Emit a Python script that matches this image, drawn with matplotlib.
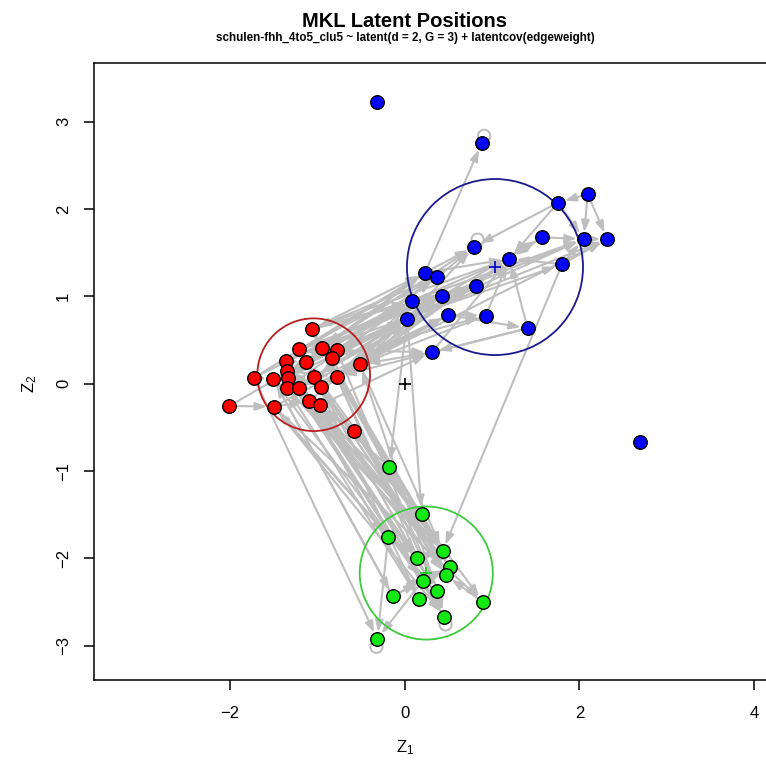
import matplotlib
matplotlib.use("Agg")
import matplotlib.pyplot as plt
from matplotlib.patches import FancyArrowPatch, Circle
import numpy as np

plt.rcParams['font.family'] = ['Liberation Sans', 'DejaVu Sans']

# Latent positions per cluster
red_x = [-1.065, -1.210, -0.950, -0.779, -0.836, -0.512, -1.359, -1.134, -1.351, -1.726, -1.505,
         -1.340, -1.035, -0.779, -1.351, -1.207, -0.962, -2.008, -1.497, -1.092, -0.970, -0.577]
red_y = [0.623, 0.394, 0.412, 0.386, 0.298, 0.222, 0.260, 0.248, 0.145, 0.069, 0.054,
         0.069, 0.080, 0.080, -0.046, -0.046, -0.034, -0.255, -0.263, -0.198, -0.244, -0.538]

blue_x = [1.755, 2.095, 1.576, 2.050, 2.320, 0.794, 1.198, 1.801, 0.232, 0.373, 0.813,
          0.427, 0.080, 0.030, 0.499, 0.928, 1.408, 0.309, -0.317, 0.882, 2.694]
blue_y = [2.073, 2.172, 1.676, 1.657, 1.657, 1.569, 1.431, 1.367, 1.271, 1.218, 1.115,
          1.004, 0.950, 0.744, 0.787, 0.779, 0.634, 0.360, 3.226, 2.753, -0.664]

green_x = [-0.176, 0.195, -0.188, 0.435, 0.137, 0.519, 0.473, 0.206, 0.373, -0.137, 0.164,
           0.900, 0.453, -0.314]
green_y = [-0.957, -1.492, -1.752, -1.916, -1.992, -2.096, -2.194, -2.256, -2.374, -2.431, -2.469,
           -2.503, -2.668, -2.923]

# Cluster means and radii
cluster_x = [-1.042, 1.034, 0.247]
cluster_y = [0.103, 1.336, -2.168]
cluster_r = [0.645, 1.008, 0.762]

# Directed ties (sender, receiver)
edges = [
    # red -> blue
    ("R1", "B13"), ("R1", "B9"), ("R3", "B12"), ("R4", "B14"), ("R4", "B10"), ("R5", "B13"),
    ("R6", "B14"), ("R6", "B15"), ("R6", "B12"), ("R7", "B13"), ("R8", "B9"), ("R9", "B14"),
    ("R13", "B12"), ("R14", "B13"), ("R14", "B15"), ("R17", "B14"), ("R2", "B11"), ("R3", "B6"),
    ("R5", "B16"), ("R6", "B7"), ("R10", "B13"), ("R18", "B13"), ("R12", "B14"), ("R16", "B15"),
    ("R20", "B14"), ("R21", "B18"), ("R4", "B18"), ("R1", "B11"), ("R7", "B12"), ("R2", "B10"),
    ("R10", "B9"), ("R12", "B10"), ("R15", "B13"), ("R16", "B12"), ("R11", "B14"), ("R19", "B15"),
    ("R6", "B5"), ("R4", "B4"), ("R14", "B7"), ("R3", "B8"), ("R1", "B7"), ("R5", "B11"),
    # blue -> red
    ("B13", "R6"), ("B14", "R4"), ("B9", "R3"), ("B12", "R5"), ("B15", "R14"), ("B18", "R6"),
    ("B10", "R1"), ("B13", "R8"), ("B14", "R13"), ("B16", "R6"), ("B17", "R14"), ("B11", "R4"),
    ("B9", "R7"), ("B12", "R2"), ("B13", "R9"), ("B14", "R16"), ("B10", "R12"), ("B15", "R17"),
    ("B11", "R13"),
    # within blue
    ("B1", "B6"), ("B1", "B7"), ("B1", "B4"), ("B2", "B4"), ("B2", "B5"), ("B2", "B1"),
    ("B3", "B4"), ("B3", "B7"), ("B8", "B4"), ("B8", "B5"), ("B8", "B7"), ("B16", "B7"),
    ("B17", "B7"), ("B11", "B7"), ("B9", "B7"), ("B13", "B7"), ("B14", "B5"), ("B12", "B4"),
    ("B15", "B16"), ("B13", "B11"), ("B9", "B20"), ("B4", "B5"), ("B9", "B6"), ("B10", "B6"),
    ("B14", "B6"), ("B12", "B3"), ("B17", "B18"), ("B18", "B7"), ("B15", "B17"), ("B13", "B4"),
    # blue -> green
    ("B8", "G4"), ("B14", "G1"), ("B14", "G2"),
    # red -> green
    ("R15", "G4"), ("R16", "G6"), ("R17", "G7"), ("R19", "G9"), ("R20", "G4"), ("R21", "G6"),
    ("R13", "G5"), ("R22", "G7"), ("R12", "G8"), ("R11", "G10"), ("R9", "G13"), ("R14", "G9"),
    ("R6", "G4"), ("R5", "G7"), ("R3", "G6"), ("R19", "G12"), ("R10", "G14"), ("R19", "G3"),
    ("R8", "G12"), ("R21", "G13"), ("R17", "G4"), ("R16", "G9"), ("R20", "G6"), ("R2", "G5"),
    ("R7", "G11"), ("R1", "G4"), ("R15", "G6"), ("R9", "G7"), ("R7", "G9"), ("R12", "G4"),
    ("R11", "G8"), ("R13", "G11"), ("R14", "G13"), ("R4", "G9"), ("R22", "G4"), ("R20", "G9"),
    ("R19", "G13"),
    # green -> red
    ("G4", "R17"), ("G6", "R14"), ("G2", "R20"), ("G5", "R16"), ("G1", "R21"), ("G3", "R19"),
    ("G7", "R13"), ("G9", "R6"), ("G8", "R21"), ("G11", "R15"), ("G13", "R12"), ("G6", "R9"),
    ("G7", "R3"), ("G10", "R11"),
    # within green
    ("G3", "G14"), ("G8", "G14"), ("G2", "G4"), ("G5", "G4"), ("G10", "G8"), ("G11", "G9"),
    ("G12", "G7"), ("G9", "G13"), ("G8", "G13"), ("G3", "G5"), ("G10", "G6"),
    # within red
    ("R18", "R19"), ("R10", "R11"), ("R1", "R3"), ("R7", "R8"), ("R15", "R16"), ("R19", "R20"),
    ("R11", "R13"), ("R9", "R14"), ("R12", "R17"), ("R2", "R5"), ("R22", "R21"),
]

# Self-ties
loops = ["B20", "B6", "G1", "G13", "G14"]

node_fill = {"R": "#FF0000", "B": "#0000FF", "G": "#12E812"}
circle_col = ["#B81E1E", "#1A1A8C", "#3CCB3C"]
center_col = ["#FF0000", "#0000CC", "#12D012"]

pos = {}
for prefix, xs, ys in (("R", red_x, red_y), ("B", blue_x, blue_y), ("G", green_x, green_y)):
    for i, (x, y) in enumerate(zip(xs, ys)):
        pos[f"{prefix}{i + 1}"] = (x, y)

W, H = 766, 763
fig = plt.figure(figsize=(W / 100, H / 100), dpi=100)
ax_left, ax_right, ax_top, ax_bottom = 94.3, 768.0, 62.7, 680.0
ax = fig.add_axes([ax_left / W, 1 - ax_bottom / H, (ax_right - ax_left) / W, (ax_bottom - ax_top) / H])
ax.set_xlim(-3.554, 4.160)
ax.set_ylim(-3.393, 3.676)

edge_col = "#BEBEBE"
for s, d in edges:
    arr = FancyArrowPatch(pos[s], pos[d], arrowstyle="-|>,head_length=0.45,head_width=0.16",
                          mutation_scale=15, shrinkA=0, shrinkB=5.0, color=edge_col,
                          lw=1.5, zorder=1)
    ax.add_patch(arr)

allx = np.array([p[0] for p in pos.values()])
ally = np.array([p[1] for p in pos.values()])
cx, cy = allx.mean(), ally.mean()
loop_r = 0.07
for n in loops:
    x, y = pos[n]
    v = np.array([x - cx, y - cy])
    v = v / np.hypot(*v)
    c = Circle((x + v[0] * 0.09, y + v[1] * 0.09), loop_r, fill=False, ec=edge_col, lw=1.5, zorder=1)
    ax.add_patch(c)

for k in range(3):
    ax.add_patch(Circle((cluster_x[k], cluster_y[k]), cluster_r[k], fill=False,
                        ec=circle_col[k], lw=1.3, zorder=2))
    ax.plot(cluster_x[k], cluster_y[k], marker="+", ms=8, mew=1.2, color=center_col[k], zorder=2)
ax.plot(0, 0, marker="+", ms=8, mew=1.2, color="black", zorder=2)

for prefix, xs, ys in (("R", red_x, red_y), ("B", blue_x, blue_y), ("G", green_x, green_y)):
    ax.scatter(xs, ys, s=95, c=node_fill[prefix], edgecolors="black", linewidths=1.0, zorder=3)

for sp in ("top", "left", "bottom"):
    ax.spines[sp].set_linewidth(1.1)
ax.spines["right"].set_visible(False)

ax.set_xticks([-2, 0, 2, 4])
ax.set_yticks([-3, -2, -1, 0, 1, 2, 3])
ax.set_xticklabels(["\u22122", "0", "2", "4"])
ax.set_yticklabels(["\u22123", "\u22122", "\u22121", "0", "1", "2", "3"])
ax.tick_params(axis="both", length=7, width=1.1, labelsize=12, direction="out")
ax.tick_params(axis="x", pad=12)
ax.tick_params(axis="y", pad=15)
for lab in ax.get_yticklabels():
    lab.set_rotation(90)
    lab.set_va("center")
    lab.set_ha("center")

fig.text(405 / W, 1 - 748 / H, r"$\mathregular{Z_1}$", ha="center", va="center", fontsize=12)
fig.text(30 / W, 1 - 384 / H, r"$\mathregular{Z_2}$", ha="center", va="center", fontsize=12, rotation=90)

fig.text(405 / W, 1 - 27 / H, "MKL Latent Positions", ha="center", va="baseline",
         fontsize=14.5, fontweight="bold")
fig.text(405 / W, 1 - 41 / H, "schulen-fhh_4to5_clu5 ~ latent(d = 2, G = 3) + latentcov(edgeweight)",
         ha="center", va="baseline", fontsize=8.4, fontweight="bold")

fig.savefig("out.png", dpi=100)
